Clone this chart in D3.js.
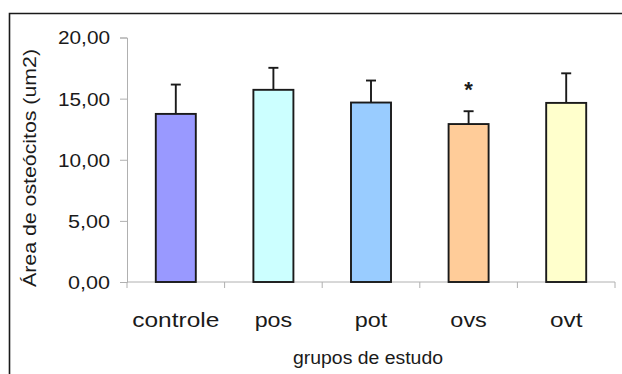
<!DOCTYPE html>
<html>
<head>
<meta charset="utf-8">
<script src="https://cdn.jsdelivr.net/npm/d3@7"></script>
<style>
html,body{margin:0;padding:0;background:#fff;}
svg{display:block;font-family:"Liberation Sans",Arial,sans-serif;}
</style>
</head>
<body>
<svg id="chart" width="622" height="374"></svg>
<script>
const categories = ["controle", "pos", "pot", "ovs", "ovt"];
const means = [13.75, 15.72, 14.68, 12.92, 14.65];
const errors = [2.40, 1.80, 1.80, 1.05, 2.42];
const colors = ["#9999ff", "#ccffff", "#99ccff", "#ffcc99", "#ffffcc"];
const significant = [false, false, false, true, false];
const yTicks = [0, 5, 10, 15, 20];
const yTitle = "Área de osteócitos (um2)";
const xTitle = "grupos de estudo";

const svg = d3.select("#chart");
const x0 = 127, x1 = 615, yTop = 37.5, yBot = 282;

const x = d3.scaleBand().domain(categories).range([x0, x1]).paddingInner(0.59).paddingOuter(0.295);
const y = d3.scaleLinear().domain([0, 20]).range([yBot, yTop]);
const fmt = v => d3.format(".2f")(v).replace(".", ",");

// outer frame
svg.append("path").attr("d", "M9.5,400 V13.5 H640")
  .attr("fill", "none").attr("stroke", "#1a1a1a").attr("stroke-width", 1.6);

// y axis
const yAxis = d3.axisLeft(y).tickValues(yTicks).tickSize(7).tickPadding(10).tickFormat(fmt);
const gy = svg.append("g").attr("transform", `translate(${x0},0)`).call(yAxis);
gy.select(".domain").attr("stroke", "#b0b0b0");
gy.selectAll(".tick line").attr("stroke", "#b0b0b0");
gy.selectAll(".tick text").attr("font-size", 18).attr("fill", "#1a1a1a")
  .attr("font-family", "'Liberation Sans', Arial, sans-serif")
  .attr("textLength", d => d >= 10 ? 52 : 42).attr("lengthAdjust", "spacingAndGlyphs")
  .attr("dy", "0.36em");

// x axis line and ticks at band boundaries
svg.append("line").attr("x1", x0).attr("x2", x1).attr("y1", yBot).attr("y2", yBot)
  .attr("stroke", "#b0b0b0");
svg.selectAll("line.xt").data([x0].concat(categories.map((c, i) => x0 + x.step() * (i + 1))))
  .enter().append("line").attr("class", "xt")
  .attr("x1", d => d).attr("x2", d => d).attr("y1", yBot).attr("y2", yBot + 6)
  .attr("stroke", "#b0b0b0");

// bars
svg.selectAll("rect.bar").data(categories).enter().append("rect").attr("class", "bar")
  .attr("x", d => x(d)).attr("width", x.bandwidth())
  .attr("y", (d, i) => y(means[i])).attr("height", (d, i) => yBot - y(means[i]))
  .attr("fill", (d, i) => colors[i]).attr("stroke", "#1a1a1a").attr("stroke-width", 1.9);

// error bars (upper only)
const eb = svg.selectAll("g.eb").data(categories).enter().append("g").attr("class", "eb");
eb.append("line")
  .attr("x1", d => x(d) + x.bandwidth() / 2).attr("x2", d => x(d) + x.bandwidth() / 2)
  .attr("y1", (d, i) => y(means[i])).attr("y2", (d, i) => y(means[i] + errors[i]))
  .attr("stroke", "#1a1a1a").attr("stroke-width", 1.9);
eb.append("line")
  .attr("x1", d => x(d) + x.bandwidth() / 2 - 5).attr("x2", d => x(d) + x.bandwidth() / 2 + 5)
  .attr("y1", (d, i) => y(means[i] + errors[i])).attr("y2", (d, i) => y(means[i] + errors[i]))
  .attr("stroke", "#1a1a1a").attr("stroke-width", 1.9);

// significance star
svg.selectAll("text.star").data(categories.filter((c, i) => significant[i])).enter()
  .append("text").attr("class", "star")
  .attr("x", d => x(d) + x.bandwidth() / 2)
  .attr("y", d => { const i = categories.indexOf(d); return y(means[i] + errors[i]) - 14; })
  .attr("text-anchor", "middle").attr("font-size", 22).attr("font-weight", "bold")
  .attr("fill", "#1a1a1a").text("*");

// category labels
const catW = {controle: 87, pos: 37.5, pot: 32.5, ovs: 36.5, ovt: 32.5};
svg.selectAll("text.cat").data(categories).enter().append("text").attr("class", "cat")
  .attr("x", d => x(d) + x.bandwidth() / 2).attr("y", 327)
  .attr("text-anchor", "middle").attr("font-size", 20).attr("fill", "#1a1a1a")
  .attr("textLength", d => catW[d]).attr("lengthAdjust", "spacingAndGlyphs")
  .text(d => d);

// axis titles
svg.append("text").attr("x", 368).attr("y", 364).attr("text-anchor", "middle")
  .attr("font-size", 18).attr("fill", "#1a1a1a")
  .attr("textLength", 150).attr("lengthAdjust", "spacingAndGlyphs").text(xTitle);
svg.append("text").attr("transform", "translate(36,168) rotate(-90)").attr("text-anchor", "middle")
  .attr("font-size", 18).attr("fill", "#1a1a1a")
  .attr("textLength", 238).attr("lengthAdjust", "spacingAndGlyphs").text(yTitle);
</script>
</body>
</html>
